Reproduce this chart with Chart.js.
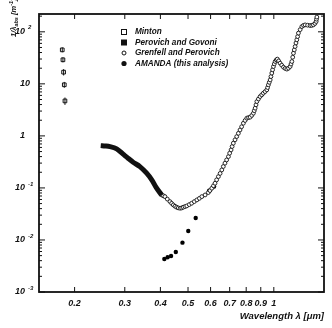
<!DOCTYPE html>
<html lang="en">
<head>
<meta charset="UTF-8">
<title>Absorption length vs wavelength</title>
<script src="https://cdn.jsdelivr.net/npm/chart.js"></script>
<style>
  html, body { margin: 0; padding: 0; background: #fff; }
  canvas { display: block; }
</style>
</head>
<body>
<canvas id="absChart" width="332" height="328"></canvas>
<script>
// Minton (open squares, with error bars)
const mintonWl  = [0.181, 0.182, 0.183, 0.184, 0.185];
const mintonAbs = [45, 29, 16.8, 9.6, 4.7];
const mintonLo  = [40.4, 25.9, 14.5, 8.4, 3.94];
const mintonHi  = [50.3, 32.4, 19.2, 10.9, 5.46];

// Perovich and Govoni (filled squares, dense)
const perovichWl  = [0.247, 0.256, 0.266, 0.281, 0.296, 0.308, 0.321, 0.339, 0.358, 0.373, 0.388, 0.404];
const perovichAbs = [0.650, 0.640, 0.622, 0.562, 0.445, 0.372, 0.312, 0.257, 0.192, 0.143, 0.0987, 0.0733];

// Grenfell and Perovich (open circles)
const grenfellWl = [
  0.404, 0.410, 0.415, 0.423, 0.432, 0.438, 0.444, 0.450, 0.456, 0.462,
  0.469, 0.475, 0.481, 0.488, 0.495, 0.505, 0.515, 0.526, 0.537, 0.548,
  0.559, 0.574, 0.589, 0.597, 0.606, 0.614, 0.622, 0.630, 0.639, 0.648,
  0.657, 0.665, 0.674, 0.683, 0.693, 0.700, 0.708, 0.714, 0.721, 0.731,
  0.741, 0.751, 0.761, 0.771, 0.782, 0.793, 0.804, 0.815, 0.826, 0.837,
  0.848, 0.854, 0.860, 0.866, 0.872, 0.883, 0.895, 0.907, 0.919, 0.932,
  0.945, 0.951, 0.957, 0.964, 0.971, 0.977, 0.984, 0.990, 0.997, 1.004,
  1.011, 1.020, 1.029, 1.040, 1.052, 1.066, 1.081, 1.096, 1.111, 1.126,
  1.141, 1.149, 1.157, 1.165, 1.172, 1.180, 1.188, 1.196, 1.204, 1.212,
  1.220, 1.237, 1.254, 1.271, 1.288, 1.314, 1.341, 1.359, 1.377, 1.395,
  1.408, 1.412, 1.416
];
const grenfellAbs = [
  0.0733, 0.0705, 0.0681, 0.0610, 0.0546, 0.0505, 0.0471, 0.0445, 0.0426, 0.0413,
  0.0407, 0.0412, 0.0426, 0.0438, 0.0451, 0.0478, 0.0508, 0.0546, 0.0588, 0.0630,
  0.0681, 0.0733, 0.0813, 0.089, 0.0987, 0.110, 0.123, 0.143, 0.165, 0.190,
  0.222, 0.258, 0.299, 0.345, 0.400, 0.465, 0.538, 0.625, 0.724, 0.84,
  0.970, 1.12, 1.30, 1.50, 1.75, 1.98, 2.19, 2.25, 2.29, 2.48,
  2.73, 3.05, 3.41, 3.95, 4.57, 5.12, 5.70, 6.15, 6.62, 7.1,
  7.67, 8.5, 9.57, 10.7, 11.9, 13.8, 16.1, 18.6, 21.5, 24.2,
  26.9, 28.8, 29.9, 27.6, 25.0, 22.8, 20.9, 19.8, 19.2, 20.0,
  21.5, 24.0, 26.9, 32.5, 38.9, 45.0, 52.2, 61.0, 70.2, 81.0,
  94.4, 110, 126, 133, 136, 134, 132, 133, 136, 145,
  158, 175, 192
];

// AMANDA (this analysis) (filled circles)
const amandaWl  = [0.413, 0.424, 0.436, 0.453, 0.478, 0.501, 0.532, 0.593, 0.617];
const amandaAbs = [0.00431, 0.00465, 0.00492, 0.00588, 0.00887, 0.0149, 0.0265, 0.0887, 0.106];

const seriesNames = ['Minton', 'Perovich and Govoni', 'Grenfell and Perovich', 'AMANDA (this analysis)'];

const xTickValues = [0.2, 0.3, 0.4, 0.5, 0.6, 0.7, 0.8, 0.9, 1];
const xTickLabels = ['0.2', '0.3', '0.4', '0.5', '0.6', '0.7', '0.8', '0.9', '1'];
const yTickValues = [0.001, 0.01, 0.1, 1, 10, 100];
const yTickBase   = ['10', '10', '10', '1', '10', '10'];
const yTickExp    = ['-3', '-2', '-1', '', '', '2'];
const yMinorMantissa = [2, 3, 4, 5, 6, 7, 8, 9];

const ink = '#111';
const fam = '"Liberation Sans", Arial, sans-serif';
const labelFont = { family: fam, size: 9, weight: 'bold', style: 'italic' };

const pts = (xs, ys) => xs.map((x, i) => ({ x: x, y: ys[i] }));

function line(ctx, x1, y1, x2, y2) {
  ctx.beginPath();
  ctx.moveTo(x1, y1);
  ctx.lineTo(x2, y2);
  ctx.stroke();
}

// ticks inside the frame, the frame, y labels, error bars, legend, y title
const framePlugin = {
  id: 'frame',
  afterDatasetsDraw(chart) {
    const { ctx, chartArea: a, scales: { x, y } } = chart;
    ctx.save();
    ctx.strokeStyle = ink;
    ctx.fillStyle = ink;
    ctx.lineWidth = 1;

    // x ticks, bottom and top
    xTickValues.forEach(v => {
      const px = x.getPixelForValue(v);
      line(ctx, px, a.bottom, px, a.bottom - 5);
      line(ctx, px, a.top, px, a.top + 5);
    });

    // y ticks, left and right
    yTickValues.forEach(v => {
      [1].concat(yMinorMantissa).forEach(m => {
        const val = v * m;
        if (val > y.max || val < y.min) return;
        const py = y.getPixelForValue(val);
        const len = m === 1 ? 6 : 3;
        line(ctx, a.left, py, a.left + len, py);
        line(ctx, a.right, py, a.right - len, py);
      });
    });

    // frame
    ctx.lineWidth = 1.8;
    ctx.strokeRect(a.left, a.top, a.right - a.left, a.bottom - a.top);

    // y tick labels with superscript exponents
    ctx.textAlign = 'left';
    ctx.textBaseline = 'middle';
    yTickValues.forEach((v, i) => {
      const py = y.getPixelForValue(v);
      const lx = yTickExp[i] === '' ? 20 : 15;
      ctx.font = 'italic bold 9px ' + fam;
      ctx.fillText(yTickBase[i], lx, py);
      if (yTickExp[i]) {
        const w = ctx.measureText(yTickBase[i]).width;
        ctx.font = 'italic bold 6px ' + fam;
        ctx.fillText(yTickExp[i], lx + w + 3, py - 4);
      }
    });

    // Minton error bars
    ctx.lineWidth = 1;
    mintonWl.forEach((w, i) => {
      const px = x.getPixelForValue(w);
      line(ctx, px, y.getPixelForValue(mintonLo[i]), px, y.getPixelForValue(mintonHi[i]));
    });

    // legend
    const lx = 124, tx = 135, rows = [32, 42.5, 53, 63.5];
    ctx.font = 'italic bold 8.2px ' + fam;
    ctx.textBaseline = 'middle';
    ctx.textAlign = 'left';
    seriesNames.forEach((name, i) => {
      const ry = rows[i];
      ctx.lineWidth = 1;
      if (i === 0) {
        ctx.strokeRect(lx - 2.5, ry - 2.5, 5, 5);
      } else if (i === 1) {
        ctx.fillRect(lx - 3, ry - 3, 6, 6);
      } else if (i === 2) {
        ctx.beginPath(); ctx.arc(lx, ry, 2, 0, Math.PI * 2); ctx.stroke();
      } else {
        ctx.beginPath(); ctx.arc(lx, ry, 2.6, 0, Math.PI * 2); ctx.fill();
      }
      ctx.fillText(name, tx, ry);
    });

    // y title: 1/λabs [m⁻¹], rotated
    ctx.translate(13, 37);
    ctx.rotate(-Math.PI / 2);
    ctx.textBaseline = 'alphabetic';
    let cx = 0;
    const big = 'italic bold 7.5px ' + fam, small = 'italic bold 5.5px ' + fam;
    [['1/\u03BB', big, 3], ['abs', small, 5], [' [m', big, 3], ['-1', small, -0.5], [']', big, 3]].forEach(p => {
      ctx.font = p[1];
      ctx.fillText(p[0], cx, p[2]);
      cx += ctx.measureText(p[0]).width;
    });
    ctx.restore();
  }
};

new Chart(document.getElementById('absChart'), {
  type: 'scatter',
  data: {
    datasets: [
      {
        label: seriesNames[0], data: pts(mintonWl, mintonAbs),
        pointStyle: 'rect', pointRadius: 2.6, borderWidth: 1,
        borderColor: ink, backgroundColor: '#fff'
      },
      {
        label: seriesNames[1], data: pts(perovichWl, perovichAbs),
        showLine: true, tension: 0.3, borderWidth: 5, borderColor: ink,
        pointRadius: 0, backgroundColor: ink
      },
      {
        label: seriesNames[2], data: pts(grenfellWl, grenfellAbs),
        pointStyle: 'circle', pointRadius: 1.9, borderWidth: 0.9,
        borderColor: ink, backgroundColor: '#fff'
      },
      {
        label: seriesNames[3], data: pts(amandaWl, amandaAbs),
        pointStyle: 'circle', pointRadius: 2.2, borderWidth: 0,
        borderColor: '#000', backgroundColor: '#000'
      }
    ]
  },
  options: {
    responsive: false,
    animation: false,
    layout: { padding: { left: 15, right: 8, top: 14, bottom: 0 } },
    plugins: { legend: { display: false }, tooltip: { enabled: false } },
    scales: {
      x: {
        type: 'logarithmic', min: 0.15, max: 1.5,
        afterBuildTicks: s => { s.ticks = xTickValues.map(v => ({ value: v })); },
        afterFit: s => { s.height = 36; },
        grid: { display: false, drawTicks: false },
        border: { display: false },
        ticks: {
          autoSkip: false, maxRotation: 0, padding: 6, color: ink, font: labelFont,
          callback: v => xTickLabels[xTickValues.indexOf(v)]
        },
        title: {
          display: true, text: 'Wavelength \u03BB [\u03BCm]', align: 'end', color: ink,
          padding: { top: 0, bottom: 6 },
          font: { family: fam, size: 9.5, weight: 'bold', style: 'italic' }
        }
      },
      y: {
        type: 'logarithmic', min: 0.001, max: 220,
        afterBuildTicks: s => { s.ticks = yTickValues.map(v => ({ value: v })); },
        afterFit: s => { s.width = 24; },
        grid: { display: false, drawTicks: false },
        border: { display: false },
        ticks: { display: false }
      }
    }
  },
  plugins: [framePlugin]
});
</script>
</body>
</html>
